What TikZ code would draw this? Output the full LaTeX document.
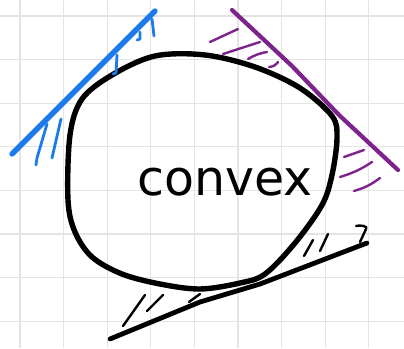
\documentclass[tikz,border=0pt]{standalone}
\usepackage{fontspec}
\newfontfamily\handfont{DejaVu Sans}
\definecolor{gridc}{RGB}{228,228,228}
\definecolor{penblue}{RGB}{28,122,235}
\definecolor{penpurple}{RGB}{125,35,140}
\tikzset{
  gridline/.style={draw=gridc, line width=1.3pt},
  pen/.style={line cap=round, line join=round},
  thickpen/.style={pen, line width=5.4pt},
  hatch/.style={pen, line width=2.4pt},
}
\begin{document}
\begin{tikzpicture}[x=1pt,y=-1pt]
\useasboundingbox (0,0) rectangle (404,348);
\fill[white] (0,0) rectangle (404,348);
% grid
\foreach \k in {0,...,8} {
  \draw[gridline] ({20+43.6*\k},0) -- ({20+43.6*\k},348);
}
\foreach \k in {0,...,7} {
  \draw[gridline] (0,{16+43.6*\k}) -- (404,{16+43.6*\k});
}
% convex shape
\draw[thickpen, black] plot[smooth cycle, tension=0.55] coordinates {
  (68,200) (70,135) (82,99) (112,75) (155,56) (205,55) (255,67) (300,88)
  (332,116) (337,138) (332,175) (322,205) (295,243) (265,274) (240,283)
  (200,289) (160,284) (122,274) (92,257) (75,232)};
% blue support line
\draw[thickpen, penblue] (12,154) -- (155,11);
\draw[hatch, penblue, line width=2.8pt] (36,165) -- (37,158) -- (47,124);
\draw[hatch, penblue, line width=2.8pt] (52,158) -- (61,119);
\draw[hatch, penblue, line width=2.8pt] (113,74) -- (116,73) -- (117,55);
\draw[hatch, penblue, line width=2.8pt] (137,40) -- (140,39) -- (140,32);
\draw[hatch, penblue, line width=2.8pt] (154,36) -- (152,19);
% purple support line
\draw[pen, line width=4.2pt, penpurple] (232,10) -- (292,66) -- (339,115) -- (398,170);
\draw[hatch, penpurple] (210,42) -- (238,29);
\draw[hatch, penpurple] (223,54) -- (260,42);
\draw[hatch, penpurple] (248,59) to[bend left=10] (267,52);
\draw[hatch, penpurple] (269,67) to[bend right=25] (278,62);
\draw[hatch, penpurple] (344,157) -- (364,150);
\draw[hatch, penpurple] (340,177) to[bend right=8] (372,162);
\draw[hatch, penpurple] (354,191) to[bend right=10] (380,178);
% black support line
\draw[thickpen, black, line width=4.8pt] (110,339) -- (200,302) -- (260,284) -- (367,243);
\draw[hatch, black] (123,326) -- (145,295);
\draw[hatch, black] (147,311) -- (163,295);
\draw[hatch, black] (189,302) -- (200,294);
\draw[hatch, black] (304,256) -- (313,240);
\draw[hatch, black] (320,251) -- (328,234);
\draw[hatch, black] (356,226) to[out=20,in=40] (366,229) -- (360,242);
% label
\node[font=\handfont\fontsize{49}{49}\selectfont, inner sep=0pt, anchor=base] (lab) at (225,195) {convex};
\end{tikzpicture}
\end{document}
